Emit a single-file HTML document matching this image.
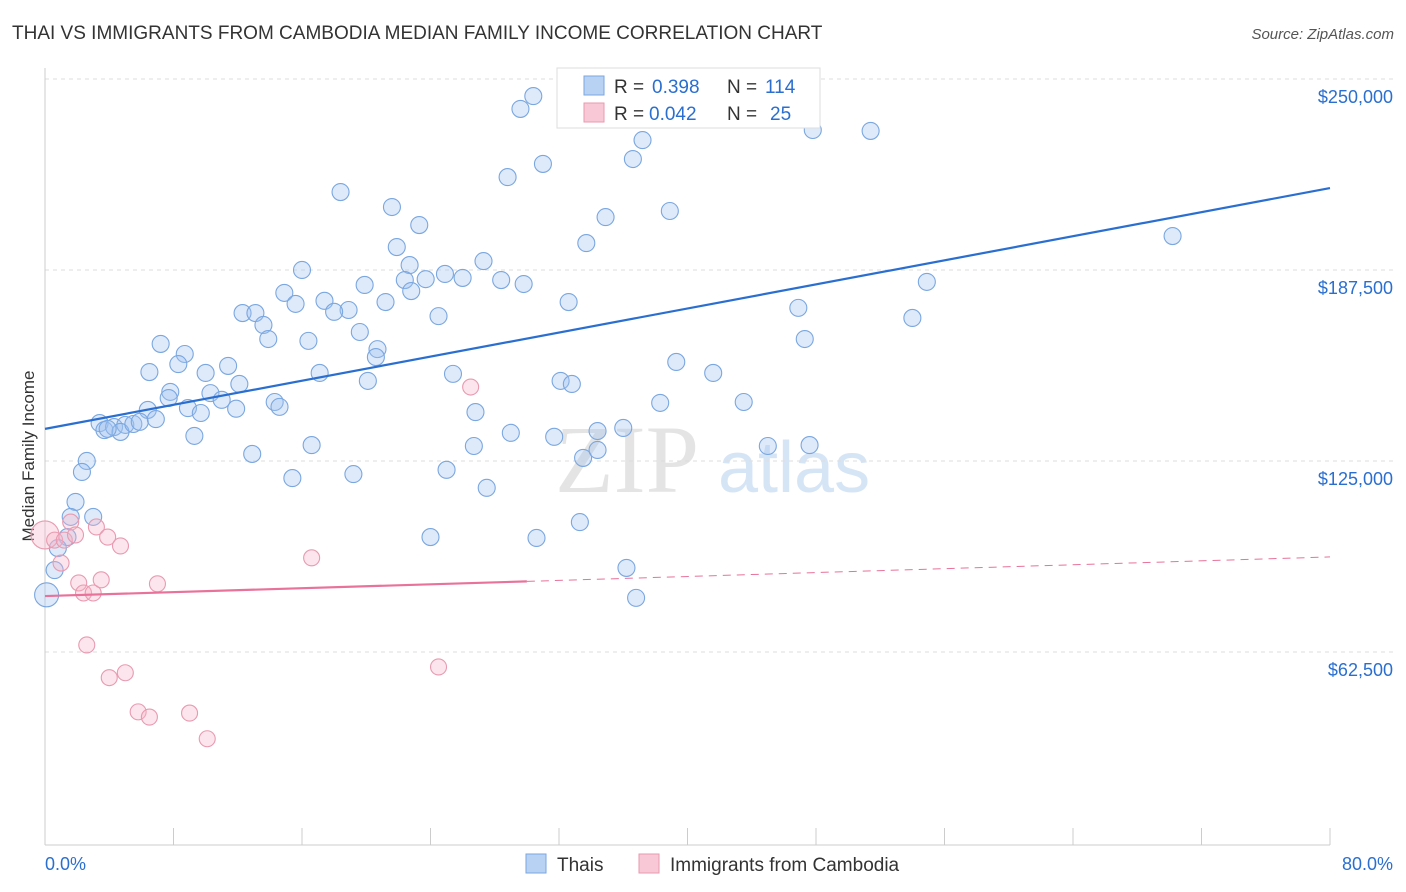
<!DOCTYPE html>
<html><head><meta charset="utf-8">
<style>
body{margin:0;background:#fff;font-family:"Liberation Sans",sans-serif;}
#wrap{position:relative;width:1406px;height:892px;overflow:hidden;}
</style></head>
<body><div id="wrap">
<svg id="svg" width="1406" height="892" xmlns="http://www.w3.org/2000/svg">
<text x="12" y="39" font-size="19" fill="#333">THAI VS IMMIGRANTS FROM CAMBODIA MEDIAN FAMILY INCOME CORRELATION CHART</text>
<text x="1394" y="39" font-size="15" fill="#555" font-style="italic" text-anchor="end">Source: ZipAtlas.com</text>
<text x="555" y="492" font-size="96" fill="#e4e4e4" font-family="Liberation Serif,serif">ZIP</text>
<text x="718" y="492" font-size="72" fill="#d6e5f6">atlas</text>
<text transform="translate(34,456) rotate(-90)" font-size="17" fill="#333" text-anchor="middle">Median Family Income</text>
<g id="grid"></g><g id="marks"></g>
<g>
<rect x="557" y="68" width="263" height="60" fill="#fff" stroke="#ddd"/>
<rect x="584" y="76" width="20" height="19" fill="#b8d2f4" stroke="#7aa7e0"/>
<text x="614" y="93" font-size="19" fill="#333">R =</text>
<text x="652" y="93" font-size="19" fill="#2a6fd0">0.398</text>
<text x="727" y="93" font-size="19" fill="#333">N =</text>
<text x="765" y="93" font-size="19" fill="#2a6fd0">114</text>
<rect x="584" y="103" width="20" height="19" fill="#f8c8d6" stroke="#e89ab0"/>
<text x="614" y="120" font-size="19" fill="#333">R =</text>
<text x="649" y="120" font-size="19" fill="#2a6fd0">0.042</text>
<text x="727" y="120" font-size="19" fill="#333">N =</text>
<text x="770" y="120" font-size="19" fill="#2a6fd0">25</text>
</g>
<g>
<rect x="526" y="854" width="20" height="19" fill="#b8d2f4" stroke="#7aa7e0"/>
<text x="557" y="871" font-size="19" fill="#333">Thais</text>
<rect x="639" y="854" width="20" height="19" fill="#f8c8d6" stroke="#e89ab0"/>
<text x="670" y="871" font-size="19" fill="#333">Immigrants from Cambodia</text>
</g>
</svg>
<script>
const blueX=[30.4,29.6,37.2,47.8,51.4,31.0,36.6,28.8,18.4,21.6,23.3,34.9,38.9,70.2,33.7,21.9,27.3,16.0,22.7,24.9,26.0,23.7,28.4,29.8,22.4,19.9,22.8,14.9,15.6,17.4,18.9,21.2,32.6,18.0,12.3,13.1,13.6,13.9,19.6,24.5,46.9,54.9,54.0,47.3,7.2,8.7,8.3,6.5,11.4,10.0,12.1,10.3,7.8,7.7,6.4,8.9,9.7,11.0,11.9,14.3,14.6,17.1,16.4,20.7,20.6,20.1,25.4,32.1,32.8,39.3,41.6,43.5,38.3,26.8,3.4,3.7,4.3,5.0,4.7,5.5,5.9,6.9,9.3,12.9,16.6,15.4,19.2,26.7,29.0,31.7,34.4,36.0,33.5,25.0,27.5,45.0,47.6,2.6,2.3,1.9,1.6,3.0,1.4,0.8,0.6,0.1,24.0,30.6,33.3,36.2,36.8,3.9,34.4];
const blueY=[250.3,246.1,235.9,239.2,238.9,228.1,229.7,223.8,218.9,214.0,208.1,210.7,212.7,204.5,202.2,200.9,196.3,193.4,195.0,192.1,190.8,190.4,190.1,188.8,190.1,188.5,186.5,185.9,182.3,183.3,180.3,182.9,182.9,179.7,179.3,179.3,175.4,170.8,173.1,178.3,181.0,189.5,177.7,170.8,169.2,165.9,162.6,160.0,162.0,159.7,156.1,153.1,153.5,151.5,147.6,148.2,146.6,150.9,148.0,150.2,148.6,159.7,170.2,167.5,164.9,157.1,159.4,157.1,156.1,163.3,159.7,150.2,149.9,146.9,143.3,141.0,142.0,142.7,140.4,143.0,143.7,144.6,139.1,133.2,136.1,125.3,126.6,135.8,140.1,138.8,140.7,141.7,131.9,128.0,122.1,135.8,136.1,130.9,127.3,117.5,112.6,112.6,106.0,102.4,95.2,87.1,106.0,105.7,110.9,95.9,86.1,141.4,134.5];
const pinkX=[0,0.6,1.2,1.6,1.9,3.2,3.9,4.7,1.0,2.1,2.4,3.0,3.5,7.0,16.6,26.5,2.6,4.0,5.0,5.8,6.5,9.0,10.1,24.5];
const pinkY=[106.7,105.0,105.0,110.9,106.7,109.3,106.0,103.1,97.5,91.0,87.7,87.7,92.0,90.7,99.2,155.1,70.7,60.0,61.6,48.8,47.1,48.4,40.0,63.5];
const yTicks=[62500,125000,187500,250000];
const yTickLabels=["$62,500","$125,000","$187,500","$250,000"];
const blueTrend=[141.4,220.2];
const pinkTrend=[86.7,99.5];
const X=v=>45+v/80*1285, Y=v=>97+(250-v)*3.056;
const NS="http://www.w3.org/2000/svg";
function mk(tag,attrs,parent){const e=document.createElementNS(NS,tag);for(const k in attrs)e.setAttribute(k,attrs[k]);parent.appendChild(e);return e;}
const g=document.getElementById('grid'),m=document.getElementById('marks');
yTicks.forEach((t,i)=>{const y=Y(t/1000);
 const l=mk('line',{x1:45,x2:1394,y1:y-18,y2:y-18,stroke:'#ddd','stroke-dasharray':'4,4'},g);
 
 
 const tx=mk('text',{x:1393,y:y+6,'font-size':18,fill:'#2a6fd0','text-anchor':'end'},g);tx.textContent=yTickLabels[i];
 
 
});
mk('line',{x1:45,x2:45,y1:68,y2:845,stroke:'#ccc'},g);
mk('line',{x1:45,x2:1330,y1:845,y2:845,stroke:'#ccc'},g);
for(let i=0;i<=10;i++){const x=X(i*8);mk('line',{x1:x,x2:x,y1:828,y2:845,stroke:'#ccc'},g);}
const t0=mk('text',{x:45,y:870,'font-size':18,fill:'#2a6fd0'},g);t0.textContent='0.0%';


const t1=mk('text',{x:1393,y:870,'font-size':18,fill:'#2a6fd0','text-anchor':'end'},g);t1.textContent='80.0%';


blueX.forEach((v,i)=>{const c=mk('circle',{cx:X(v),cy:Y(blueY[i]),r:v<0.5?12:8.5,fill:'rgba(160,196,240,0.35)',stroke:'#7aa7e0','stroke-width':1.1},m);
 
 });
pinkX.forEach((v,i)=>{const c=mk('circle',{cx:X(v),cy:Y(pinkY[i]),r:v<0.3?14:8,fill:'rgba(245,180,200,0.35)',stroke:'#e89ab0','stroke-width':1.1},m);
 
 });
const bl=mk('line',{x1:X(0),y1:Y(blueTrend[0]),x2:X(80),y2:Y(blueTrend[1]),stroke:'#2a6fd0','stroke-width':2.2},m);


const pAt=v=>pinkTrend[0]+(pinkTrend[1]-pinkTrend[0])*v/80;
const pl=mk('line',{x1:X(0),y1:Y(pAt(0)),x2:X(30),y2:Y(pAt(30)),stroke:'#e8729a','stroke-width':2.2},m);


const pd=mk('line',{x1:X(30),y1:Y(pAt(30)),x2:X(80),y2:Y(pAt(80)),stroke:'#e8729a','stroke-width':1,'stroke-dasharray':'8,6'},m);


</script>
</div></body></html>
